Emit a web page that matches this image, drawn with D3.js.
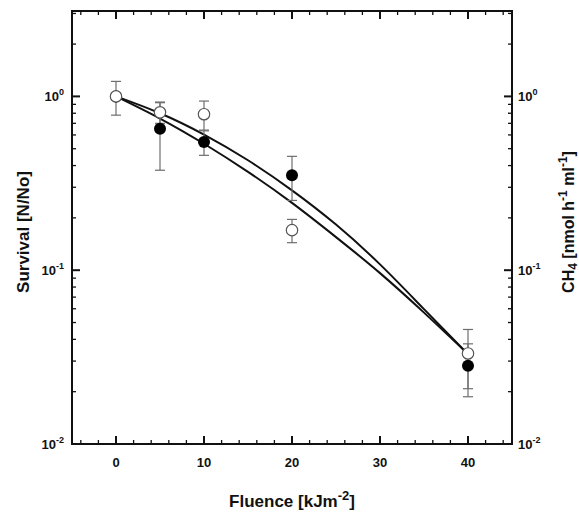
<!DOCTYPE html>
<html><head><meta charset="utf-8">
<script src="https://cdn.jsdelivr.net/npm/d3@7"></script>
<style>body{margin:0;background:#fff}svg{display:block}text{font-family:Arial,"Liberation Sans",Helvetica,sans-serif;font-weight:bold;fill:#111}</style>
</head><body><svg id="c" width="579" height="512"></svg>
<script>
// Data
const fluence = [0, 5, 10, 20, 40];
const openVals = [1.0, 0.81, 0.79, 0.170, 0.0332];
const openErr  = [0.22, 0.11, 0.15, 0.026, 0.0124];
const filledVals = [1.0, 0.652, 0.546, 0.352, 0.0282];
const filledErr  = [0, 0.276, 0.088, 0.10, 0.0095];
const curveX = [0, 5, 10, 15, 20, 25, 30, 35, 40];
const curveUpper = [1.0, 0.800, 0.603, 0.429, 0.288, 0.183, 0.108, 0.0597, 0.0329];
const curveLower = [1.0, 0.746, 0.534, 0.368, 0.244, 0.155, 0.0962, 0.0570, 0.0329];
const xMajorTicks = [0, 10, 20, 30, 40];
const xMinorTicks = [-4,-2,2,4,6,8,12,14,16,18,22,24,26,28,32,34,36,38,42,44];
const yMajorTicks = [0.01, 0.1, 1];
const yMajorExp = ["-2", "-1", "0"];
const yMinorTicks = [0.02,0.03,0.04,0.05,0.06,0.07,0.08,0.09,0.2,0.3,0.4,0.5,0.6,0.7,0.8,0.9,2,3];

const L = 72, R = 512, T = 11, B = 444;
const x = d3.scaleLinear().domain([-5, 45]).range([L, R]);
const y = d3.scaleLog().domain([0.01, 3.1]).range([B, T]);
const svg = d3.select("#c");

// curves
const line = d3.line().x(d => x(d[0])).y(d => y(d[1])).curve(d3.curveNatural);
[curveUpper, curveLower].forEach(c => {
  svg.append("path").attr("d", line(curveX.map((v, i) => [v, c[i]])))
    .attr("fill", "none").attr("stroke", "#111").attr("stroke-width", 2);
});

// error bars
function errBars(vals, errs) {
  const g = svg.append("g").attr("stroke", "#6e6e6e").attr("stroke-width", 1.2).attr("fill", "none");
  fluence.forEach((f, i) => {
    if (!errs[i]) return;
    const cx = x(f), y1 = y(vals[i] + errs[i]), y2 = y(vals[i] - errs[i]);
    g.append("line").attr("x1", cx).attr("x2", cx).attr("y1", y1).attr("y2", y2);
    [y1, y2].forEach(yy => g.append("line").attr("x1", cx - 5).attr("x2", cx + 5).attr("y1", yy).attr("y2", yy));
  });
}
errBars(filledVals, filledErr);
errBars(openVals, openErr);

svg.append("g").selectAll("circle").data(fluence).join("circle")
  .attr("cx", d => x(d)).attr("cy", (d, i) => y(filledVals[i])).attr("r", 6)
  .attr("fill", "#000");
svg.append("g").selectAll("circle").data(fluence).join("circle")
  .attr("cx", d => x(d)).attr("cy", (d, i) => y(openVals[i])).attr("r", 5.7)
  .attr("fill", "#fff").attr("stroke", "#555").attr("stroke-width", 1.2);

// frame
svg.append("rect").attr("x", L).attr("y", T).attr("width", R - L).attr("height", B - T)
  .attr("fill", "none").attr("stroke", "#111").attr("stroke-width", 2);

// ticks
const tk = svg.append("g").attr("stroke", "#111").attr("stroke-width", 1.3);
xMajorTicks.forEach(v => {
  tk.append("line").attr("x1", x(v)).attr("x2", x(v)).attr("y1", B).attr("y2", B - 8).attr("stroke-width", 2);
  tk.append("line").attr("x1", x(v)).attr("x2", x(v)).attr("y1", T).attr("y2", T + 8).attr("stroke-width", 2);
});
xMinorTicks.forEach(v => {
  tk.append("line").attr("x1", x(v)).attr("x2", x(v)).attr("y1", B).attr("y2", B - 4);
  tk.append("line").attr("x1", x(v)).attr("x2", x(v)).attr("y1", T).attr("y2", T + 4);
});
yMajorTicks.forEach(v => {
  tk.append("line").attr("x1", L).attr("x2", L + 8).attr("y1", y(v)).attr("y2", y(v)).attr("stroke-width", 2);
  tk.append("line").attr("x1", R).attr("x2", R - 8).attr("y1", y(v)).attr("y2", y(v)).attr("stroke-width", 2);
});
yMinorTicks.forEach(v => {
  tk.append("line").attr("x1", L).attr("x2", L + 4).attr("y1", y(v)).attr("y2", y(v));
  tk.append("line").attr("x1", R).attr("x2", R - 4).attr("y1", y(v)).attr("y2", y(v));
});

// tick labels
xMajorTicks.forEach(v => {
  svg.append("text").attr("x", x(v)).attr("y", 467).attr("text-anchor", "middle")
    .attr("font-size", 13).text(v);
});
yMajorTicks.forEach((v, i) => {
  const tl = svg.append("text").attr("x", 64).attr("y", y(v) + 5).attr("text-anchor", "end").attr("font-size", 13);
  tl.append("tspan").text("10");
  tl.append("tspan").attr("dy", -6).attr("font-size", 9).text(yMajorExp[i]);
  const tr = svg.append("text").attr("x", 518).attr("y", y(v) + 5).attr("text-anchor", "start").attr("font-size", 13);
  tr.append("tspan").text("10");
  tr.append("tspan").attr("dy", -6).attr("font-size", 9).text(yMajorExp[i]);
});

// axis titles
const xt = svg.append("text").attr("x", 292).attr("y", 507).attr("text-anchor", "middle").attr("font-size", 17);
xt.append("tspan").text("Fluence [kJm");
xt.append("tspan").attr("dy", -7).attr("font-size", 13).text("-2");
xt.append("tspan").attr("dy", 7).text("]");

svg.append("text").attr("transform", "translate(29,232) rotate(-90)").attr("text-anchor", "middle")
  .attr("font-size", 17).text("Survival [N/No]");

const rt = svg.append("text").attr("transform", "translate(574,222) rotate(-90)").attr("text-anchor", "middle").attr("font-size", 16);
rt.append("tspan").text("CH");
rt.append("tspan").attr("dy", 3).attr("font-size", 12).text("4");
rt.append("tspan").attr("dy", -3).text(" [nmol h");
rt.append("tspan").attr("dy", -7).attr("font-size", 12).text("-1");
rt.append("tspan").attr("dy", 7).text(" ml");
rt.append("tspan").attr("dy", -7).attr("font-size", 12).text("-1");
rt.append("tspan").attr("dy", 7).text("]");
</script></body></html>
